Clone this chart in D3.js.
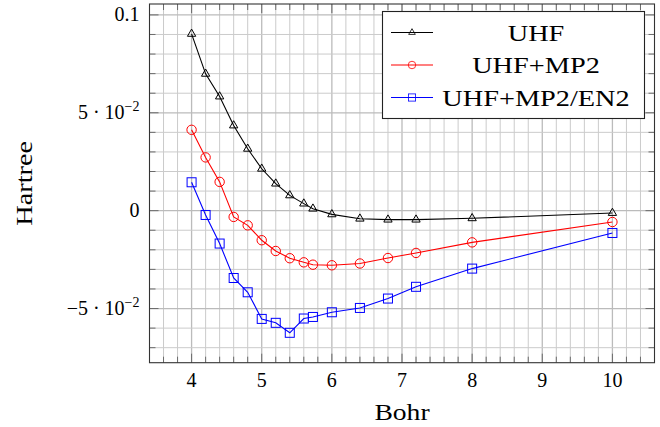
<!DOCTYPE html>
<html>
<head>
<meta charset="utf-8">
<script src="https://cdn.jsdelivr.net/npm/d3@7"></script>
<style>
  body { margin: 0; background: #fff; }
  text { font-family: "Liberation Serif", "DejaVu Serif", serif; fill: #000; }
</style>
</head>
<body>
<svg id="chart" width="660" height="427"></svg>
<script>
// distances in Bohr
const bohr = [4, 4.2, 4.4, 4.6, 4.8, 5, 5.2, 5.4, 5.6, 5.73, 6, 6.4, 6.8, 7.2, 8, 10];

// energies in Hartree
const uhf = [0.0903, 0.0699, 0.0583, 0.0435, 0.0316, 0.0214, 0.0138, 0.0078, 0.0036, 0.0010,
  -0.0019, -0.0041, -0.0046, -0.0046, -0.0039, -0.0012];
const uhfMp2 = [0.0413, 0.0272, 0.0147, -0.0032, -0.0075, -0.0151, -0.0206, -0.0243, -0.0264, -0.0276,
  -0.0279, -0.0270, -0.0242, -0.0216, -0.0162, -0.0058];
const uhfMp2En2 = [0.0145, -0.0022, -0.0168, -0.0344, -0.0417, -0.0553, -0.0573, -0.0624, -0.0551, -0.0543,
  -0.0519, -0.0497, -0.0449, -0.0389, -0.0296, -0.0114];

const seriesNames = ['UHF', 'UHF+MP2', 'UHF+MP2/EN2'];
const seriesColors = ['#000000', '#ff0000', '#0000ff'];
const seriesMarks = ['triangle', 'circle', 'square'];

const xTicks = [4, 5, 6, 7, 8, 9, 10];
const yTicks = [-0.05, 0, 0.05, 0.1];
const yTickLabels = [['\u22125 \u00b7 10', '\u22122'], ['0', null], ['5 \u00b7 10', '\u22122'], ['0.1', null]];

const series = seriesNames.map((name, i) => ({
  name,
  color: seriesColors[i],
  mark: seriesMarks[i],
  values: [uhf, uhfMp2, uhfMp2En2][i].map((v, j) => ({ x: bohr[j], y: v })),
}));

const box = { left: 149.5, right: 654.5, top: 4, bottom: 362.7 };

// pgfplots style: enlarge limits by 10% of the data range
function enlarge([lo, hi]) {
  const pad = (hi - lo) * 0.1;
  return [lo - pad, hi + pad];
}
const allY = series.flatMap((s) => s.values.map((d) => d.y));
const xDomain = enlarge(d3.extent(bohr));
const yDomain = enlarge(d3.extent(allY));

const x = d3.scaleLinear().domain(xDomain).range([box.left, box.right]);
const y = d3.scaleLinear().domain(yDomain).range([box.bottom, box.top]);

const xMinor = d3.range(Math.ceil(xDomain[0] / 0.2), Math.floor(xDomain[1] / 0.2) + 1).map((k) => +(k * 0.2).toFixed(2));
const yMinor = d3.range(Math.ceil(yDomain[0] / 0.01), Math.floor(yDomain[1] / 0.01) + 1).map((k) => +(k * 0.01).toFixed(3));

const isMajorX = (d) => xTicks.includes(d);
const isMajorY = (d) => yTicks.some((t) => Math.abs(t - d) < 1e-9);

const svg = d3.select('#chart');

// grid
const grid = svg.append('g');
grid.selectAll('.gx').data(xMinor).enter().append('line')
  .attr('x1', (d) => x(d)).attr('x2', (d) => x(d))
  .attr('y1', box.top).attr('y2', box.bottom)
  .attr('stroke', (d) => (isMajorX(d) ? '#bbbbbb' : '#cbcbcb'))
  .attr('stroke-width', (d) => (isMajorX(d) ? 1.3 : 1));
grid.selectAll('.gy').data(yMinor).enter().append('line')
  .attr('y1', (d) => y(d)).attr('y2', (d) => y(d))
  .attr('x1', box.left).attr('x2', box.right)
  .attr('stroke', (d) => (isMajorY(d) ? '#bbbbbb' : '#cbcbcb'))
  .attr('stroke-width', (d) => (isMajorY(d) ? 1.3 : 1));

// tick marks on all four sides, pointing inwards
const ticks = svg.append('g').attr('stroke', '#6b6b6b').attr('stroke-width', 1);
xMinor.forEach((d) => {
  const len = isMajorX(d) ? 9 : 6;
  ticks.append('line').attr('x1', x(d)).attr('x2', x(d)).attr('y1', box.bottom).attr('y2', box.bottom - len);
  ticks.append('line').attr('x1', x(d)).attr('x2', x(d)).attr('y1', box.top).attr('y2', box.top + len);
});
yMinor.forEach((d) => {
  const len = isMajorY(d) ? 9 : 6;
  ticks.append('line').attr('y1', y(d)).attr('y2', y(d)).attr('x1', box.left).attr('x2', box.left + len);
  ticks.append('line').attr('y1', y(d)).attr('y2', y(d)).attr('x1', box.right).attr('x2', box.right - len);
});

// frame
svg.append('rect')
  .attr('x', box.left).attr('y', box.top)
  .attr('width', box.right - box.left).attr('height', box.bottom - box.top)
  .attr('fill', 'none').attr('stroke', '#333').attr('stroke-width', 1.1);

// tick labels
svg.append('g').selectAll('text').data(xTicks).enter().append('text')
  .attr('x', (d) => x(d)).attr('y', box.bottom + 24)
  .attr('text-anchor', 'middle').attr('font-size', 20)
  .text((d) => d);

const yLab = svg.append('g').selectAll('text').data(yTicks).enter().append('text')
  .attr('x', box.left - 10).attr('y', (d) => y(d) + 6.5)
  .attr('text-anchor', 'end').attr('font-size', 20);
yLab.each(function (d, i) {
  const [base, sup] = yTickLabels[i];
  const t = d3.select(this);
  t.append('tspan').text(base);
  if (sup) {
    t.append('tspan').attr('dy', -8).attr('font-size', 14).text(sup);
  }
});

// axis titles (stretched a little to get closer to Computer Modern widths)
svg.append('text')
  .attr('transform', `translate(${(box.left + box.right) / 2},420) scale(1.15,1)`)
  .attr('text-anchor', 'middle').attr('font-size', 24)
  .text('Bohr');
svg.append('text')
  .attr('transform', `translate(32,${(box.top + box.bottom) / 2}) rotate(-90) scale(1.18,1)`)
  .attr('text-anchor', 'middle').attr('font-size', 24)
  .text('Hartree');

// markers
function drawMark(sel, mark, color) {
  if (mark === 'circle') {
    sel.append('circle').attr('r', 4.7);
  } else if (mark === 'square') {
    sel.append('rect').attr('x', -4.5).attr('y', -4.5).attr('width', 9).attr('height', 9);
  } else {
    const r = 4.8;
    sel.append('path').attr('d', `M0,${-r}L${r * 0.866},${r / 2}L${-r * 0.866},${r / 2}Z`);
  }
  sel.attr('fill', 'none').attr('stroke', color).attr('stroke-width', 1);
}

const line = d3.line().x((d) => x(d.x)).y((d) => y(d.y));

const plot = svg.append('g');
series.forEach((s) => {
  plot.append('path').datum(s.values)
    .attr('d', line)
    .attr('fill', 'none').attr('stroke', s.color).attr('stroke-width', 1.1);
  plot.selectAll(null).data(s.values).enter().append('g')
    .attr('transform', (d) => `translate(${x(d.x)},${y(d.y)})`)
    .each(function () { drawMark(d3.select(this), s.mark, s.color); });
});

// legend
const legend = svg.append('g');
legend.append('rect')
  .attr('x', 382.5).attr('y', 11.5).attr('width', 262).attr('height', 107)
  .attr('fill', '#fff').attr('stroke', '#222').attr('stroke-width', 1.1);
series.forEach((s, i) => {
  const cy = 32.5 + i * 32.5;
  const g = legend.append('g');
  g.append('line').attr('x1', 391).attr('x2', 433).attr('y1', cy).attr('y2', cy)
    .attr('stroke', s.color).attr('stroke-width', 1.1);
  const m = g.append('g').attr('transform', `translate(412,${cy}) scale(0.8)`);
  drawMark(m, s.mark, s.color);
  g.append('text')
    .attr('transform', `translate(536,${cy + 8}) scale(1.18,1)`)
    .attr('text-anchor', 'middle').attr('font-size', 24)
    .text(s.name);
});
</script>
</body>
</html>
